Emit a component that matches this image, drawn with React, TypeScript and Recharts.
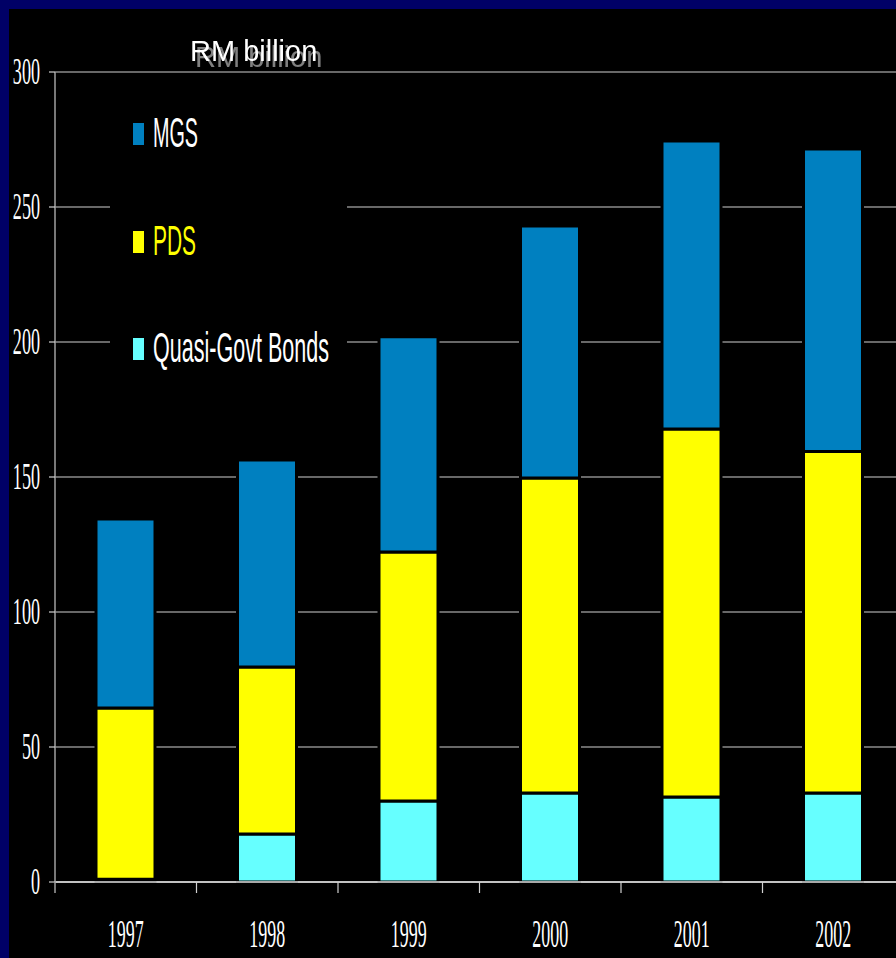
import React from 'react';
import { BarChart, Bar, XAxis, YAxis, CartesianGrid } from 'recharts';

const years = ['1997', '1998', '1999', '2000', '2001', '2002'];
const quasiGovtBonds = [1, 17.8, 30, 33, 31.5, 33];
const pds = [63.4, 61.8, 92.2, 116.6, 136.3, 126.4];
const mgs = [70, 76.7, 79.7, 93.4, 106.6, 112.1];
const yTicks = [0, 50, 100, 150, 200, 250, 300];
const unitLabel = 'RM billion';
const seriesKeys = ['mgs', 'pds', 'quasi'];
const seriesNames: Record<string, string> = { mgs: 'MGS', pds: 'PDS', quasi: 'Quasi-Govt Bonds' };
const seriesColors: Record<string, string> = { mgs: '#0080c0', pds: '#ffff00', quasi: '#66ffff' };
const legendTextColors: Record<string, string> = { mgs: '#ffffff', pds: '#ffff00', quasi: '#ffffff' };
const legendTextWidths: Record<string, number> = { mgs: 45, pds: 43, quasi: 176 };

const data = years.map((year, i) => ({
  year,
  quasi: quasiGovtBonds[i],
  pds: pds[i],
  mgs: mgs[i],
}));

const serif = "'Liberation Serif', 'Times New Roman', serif";
const sans = "'Liberation Sans', Arial, sans-serif";

const XTick = (props: any) => {
  const { x, y, payload, index } = props;
  const half = payload && typeof payload.offset === 'number' ? payload.offset : 70.75;
  return (
    <g>
      {index === 0 && (
        <line x1={x - half} x2={x - half} y1={y - 11} y2={y} stroke="#a0a0a0" strokeWidth={1.5} />
      )}
      <line x1={x + half} x2={x + half} y1={y - 11} y2={y} stroke="#d0d0d0" strokeWidth={1.2} />
      <text
        transform={`translate(${x},${y + 54}) scale(0.46,1)`}
        textAnchor="middle"
        fill="#ffffff"
        fontFamily={serif}
        fontSize={39}
      >
        {payload.value}
      </text>
    </g>
  );
};

const YTick = (props: any) => {
  const { x, y, payload } = props;
  return (
    <text
      transform={`translate(${x},${y + 12}) scale(0.49,1)`}
      textAnchor="end"
      fill="#ffffff"
      fontFamily={serif}
      fontSize={37}
    >
      {payload.value}
    </text>
  );
};

const legendRows = [134, 242, 349];

export default function App() {
  return (
    <div
      style={{
        position: 'absolute',
        left: 0,
        top: 0,
        width: 896,
        height: 958,
        overflow: 'hidden',
        background: '#000066',
      }}
    >
      <div
        style={{ position: 'absolute', left: 9, top: 9, width: 887, height: 949, background: '#000000' }}
      />
      <div style={{ position: 'absolute', left: 0, top: 0 }}>
        <BarChart
          width={920}
          height={958}
          data={data}
          margin={{ top: 72, right: 16, bottom: 0, left: 0 }}
          barSize={59}
        >
          <CartesianGrid vertical={false} stroke="#d0d0d0" strokeWidth={1.2} />
          <XAxis
            dataKey="year"
            height={76}
            axisLine={{ stroke: '#e0e0e0', strokeWidth: 1.5 }}
            tickLine={false}
            tickSize={11}
            tickMargin={0}
            tick={<XTick />}
            interval={0}
          />
          <YAxis
            width={55}
            domain={[0, 300]}
            ticks={yTicks}
            tickSize={6}
            tickMargin={9}
            axisLine={{ stroke: '#a0a0a0', strokeWidth: 1.5 }}
            tickLine={{ stroke: '#d0d0d0', strokeWidth: 1.2 }}
            tick={<YTick />}
            interval={0}
          />
          <Bar dataKey="quasi" stackId="a" fill={seriesColors.quasi} stroke="#000" strokeWidth={3} isAnimationActive={false} />
          <Bar dataKey="pds" stackId="a" fill={seriesColors.pds} stroke="#000" strokeWidth={3} isAnimationActive={false} />
          <Bar dataKey="mgs" stackId="a" fill={seriesColors.mgs} stroke="#000" strokeWidth={3} isAnimationActive={false} />
        </BarChart>
      </div>
      <svg
        width={896}
        height={958}
        style={{ position: 'absolute', left: 0, top: 0, pointerEvents: 'none' }}
      >
        <defs>
          <filter id="titleShadow" x="-10%" y="-30%" width="130%" height="180%">
            <feDropShadow dx={5} dy={6} stdDeviation={0} floodColor="#808080" floodOpacity={1} />
          </filter>
        </defs>
        <text x={190} y={61} fill="#ffffff" fontFamily={sans} fontSize={29} filter="url(#titleShadow)">
          {unitLabel}
        </text>
        <rect x={110} y={92} width={237} height={283} fill="#000000" />
        {seriesKeys.map((k, i) => (
          <g key={k}>
            <rect x={133} y={legendRows[i] - 11} width={11} height={22} fill={seriesColors[k]} />
            <text
              x={153}
              y={legendRows[i] + 13}
              textLength={legendTextWidths[k]}
              lengthAdjust="spacingAndGlyphs"
              fill={legendTextColors[k]}
              fontFamily={sans}
              fontSize={42}
            >
              {seriesNames[k]}
            </text>
          </g>
        ))}
      </svg>
    </div>
  );
}
